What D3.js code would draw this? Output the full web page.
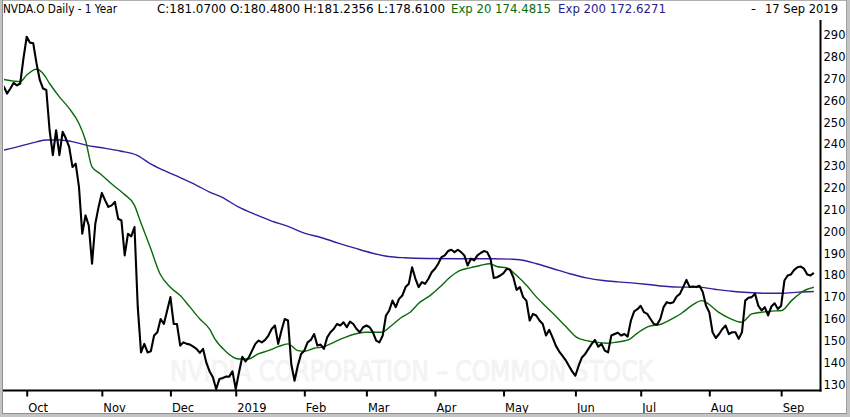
<!DOCTYPE html>
<html lang="en">
<head>
<meta charset="UTF-8">
<title>NVDA.O Daily - 1 Year</title>
<script src="https://d3js.org/d3.v7.min.js"></script>
<style>
  body { margin: 0; background: #fff; }
  svg text { font-family: "DejaVu Sans", sans-serif; }
</style>
</head>
<body>
<svg width="850" height="417"></svg>
<script>
// trading-day index of the first close (Oct 1 2018 = day 0)
const firstDay = -8;

// daily closes
const closes = [
  267.8, 266.3, 263.2, 265.5, 268.1, 266.9, 267.8, 279.3, 289.2, 286.5,
  286.2, 277.0, 269.4, 265.5, 264.8, 246.4, 235.0, 246.4, 235.0, 245.7,
  242.6, 238.8, 229.6, 231.1, 220.4, 199.0, 207.4, 202.8, 185.3, 203.6,
  211.3, 217.7, 214.3, 211.3, 212.0, 213.6, 205.9, 205.1, 189.1, 199.0,
  197.8, 202.1, 165.4, 144.7, 148.6, 144.7, 145.2, 152.4, 153.9, 160.0,
  157.7, 163.9, 170.0, 157.7, 157.7, 147.8, 149.3, 148.6, 148.3, 147.3,
  146.3, 144.5, 146.3, 140.0, 136.0, 133.3, 127.9, 132.5, 133.0, 133.6,
  133.6, 136.0, 127.9, 135.6, 142.7, 140.6, 142.4, 145.5, 148.6, 150.1,
  149.3, 150.4, 152.4, 155.4, 157.0, 148.6, 154.7, 160.0, 159.3, 139.4,
  131.7, 138.6, 144.0, 145.5, 149.3, 150.4, 153.1, 147.8, 148.3, 146.3,
  151.6, 153.9, 155.4, 157.7, 157.0, 158.5, 156.2, 158.8, 157.7, 155.4,
  153.9, 156.2, 157.0, 156.2, 153.9, 150.1, 149.3, 152.4, 161.6, 163.9,
  168.4, 165.4, 169.2, 170.7, 174.6, 176.1, 183.7, 178.5, 174.6, 176.9,
  176.1, 178.4, 181.4, 183.0, 185.3, 188.3, 189.1, 191.1, 191.7, 190.6,
  191.7, 190.6, 189.1, 184.5, 187.6, 186.8, 189.1, 190.2, 191.1, 190.6,
  187.6, 178.8, 179.1, 179.9, 181.0, 183.0, 182.5, 179.1, 173.3, 174.6,
  170.0, 168.4, 159.3, 162.3, 161.6, 159.3, 157.7, 152.4, 155.0, 151.6,
  147.8, 145.2, 143.2, 141.2, 138.6, 136.0, 134.0, 138.6, 142.4, 144.0,
  146.3, 148.6, 150.4, 147.3, 148.6, 145.5, 144.7, 152.4, 153.1, 153.7,
  152.4, 153.1, 151.9, 159.3, 163.5, 164.5, 166.0, 163.1, 162.3, 160.0,
  157.7, 157.4, 160.0, 165.4, 167.7, 167.2, 167.7, 170.3, 171.5, 174.6,
  177.9, 174.6, 174.9, 174.6, 175.2, 172.3, 166.1, 163.1, 153.9, 151.3,
  153.1, 155.4, 157.0, 153.1, 153.9, 153.9, 150.9, 153.9, 168.4, 169.7,
  170.0, 171.5, 166.1, 163.9, 165.4, 161.6, 165.7, 167.2, 164.6, 166.1,
  177.6, 179.9, 180.4, 182.5, 183.7, 184.0, 183.0, 180.4, 179.9, 181.1
];

// [trading day, value] read along the moving averages
const ema20 = [
  [-7, 269.6], [-4, 268.9], [-2, 268.6], [0, 271.7], [3, 274.3], [5, 272.4],
  [7, 267.8], [10, 261.7], [13, 256.4], [16, 249.5], [18, 241.8], [20, 229.6],
  [22.5, 226.5], [26.5, 221.2], [29.6, 217.4], [33, 212.0], [34.7, 205.1],
  [37.8, 192.9], [40.8, 180.7], [43.9, 174.6], [47, 170.7], [50, 165.4],
  [53, 160.0], [56, 155.4], [57.6, 150.9], [60.7, 145.5], [64.8, 141.7],
  [67.9, 141.7], [70.9, 144.0], [74, 145.5], [77, 147.3], [80, 148.6],
  [83, 145.5], [85, 145.2], [88, 146.6], [91, 147.3], [94, 149.3],
  [97.5, 151.6], [100.5, 153.1], [103.6, 153.9], [106.6, 153.9], [108.7, 153.9],
  [111.7, 157.0], [114.8, 160.8], [117.4, 163.1], [120.4, 167.7], [123.5, 170.7],
  [126.5, 174.6], [129.6, 179.1], [132.7, 182.2], [135.7, 183.4], [138.8, 184.5],
  [141.8, 185.3], [143.9, 184.0], [147, 183.4], [150, 179.9], [153.1, 175.3],
  [156.1, 170.0], [159.2, 165.4], [162.3, 160.8], [165.3, 156.2], [168.4, 151.6],
  [171.4, 150.1], [174.5, 149.3], [177.5, 148.9], [180.1, 149.3], [184.2, 150.4],
  [187.3, 153.9], [190.3, 156.5], [194.4, 157.7], [197.5, 160.0], [200.5, 162.6],
  [203.6, 166.1], [206.7, 168.4], [208.7, 166.9], [211.8, 163.1], [214.9, 160.5],
  [218.9, 158.5], [222, 162.3], [225.1, 163.1], [228.1, 163.6], [231.2, 163.9],
  [234.2, 168.4], [237.3, 172.3], [241, 174.5]
];

const ema200 = [
  [-7, 237.3], [-2, 239.1], [3, 241.1], [6, 241.9], [10, 241.9], [14.3, 241.1],
  [18.4, 239.5], [22.5, 238.5], [28.6, 236.9], [33.7, 235.0], [37.8, 231.1],
  [41.8, 228.1], [47, 224.7], [52, 221.2], [56, 218.1], [59.7, 215.8],
  [64.8, 211.3], [69.9, 207.9], [75, 204.8], [80, 202.4], [85, 199.3],
  [90.3, 197.2], [95.4, 194.7], [100.5, 192.4], [105.6, 190.2], [110.7, 188.6],
  [115.8, 188.0], [122.5, 187.7], [132.7, 187.6], [142.9, 187.6], [148, 187.4],
  [151, 187.1], [156.1, 185.3], [161.2, 183.0], [166.3, 180.7], [171.4, 178.8],
  [176.5, 177.6], [181, 177.0], [185.2, 176.5], [190.3, 175.8], [195.4, 175.0],
  [200.5, 174.6], [205.6, 174.6], [210.7, 173.6], [215.8, 172.7], [220.9, 172.1],
  [226, 171.8], [231.2, 171.8], [236.3, 172.3], [241, 172.6]
];

const monthLabels = ["Oct", "Nov", "Dec", "2019", "Feb", "Mar", "Apr", "May", "Jun", "Jul", "Aug", "Sep"];
const monthDays = [0, 23, 44, 64, 85, 104, 125, 146, 168, 188, 209, 231];
const priceTicks = [130, 140, 150, 160, 170, 180, 190, 200, 210, 220, 230, 240, 250, 260, 270, 280, 290];

const width = 850;
const height = 417;
const plot = { left: 4, right: 820.5, top: 20, bottom: 390.5 };

const svg = d3.select("svg")
    .attr("width", width)
    .attr("height", height);

const x = d3.scaleLinear().domain([firstDay, 241]).range([0.6, 813.8]);
const y = d3.scaleLinear().domain([130, 290]).range([384.5, 35]);

svg.append("rect").attr("width", width).attr("height", height).attr("fill", "#fff");

svg.append("defs").append("clipPath").attr("id", "plotClip")
  .append("rect")
    .attr("x", plot.left).attr("y", plot.top)
    .attr("width", plot.right - plot.left).attr("height", plot.bottom - plot.top);

// faint watermark
svg.append("text")
    .attr("x", 170).attr("y", 381)
    .attr("textLength", 483).attr("lengthAdjust", "spacingAndGlyphs")
    .attr("font-size", 29)
    .attr("fill", "#f6f6f6")
    .attr("stroke", "#eeeeee").attr("stroke-width", 0.6)
    .text("NVIDIA CORPORATION \u2013 COMMON STOCK");

const g = svg.append("g").attr("clip-path", "url(#plotClip)");

const avgLine = d3.line().x(d => x(d[0])).y(d => y(d[1])).curve(d3.curveMonotoneX);

g.append("path")
    .datum(ema200)
    .attr("fill", "none")
    .attr("stroke", "#3a1d9a")
    .attr("stroke-width", 1.4)
    .attr("d", avgLine);

g.append("path")
    .datum(ema20)
    .attr("fill", "none")
    .attr("stroke", "#0a6a0a")
    .attr("stroke-width", 1.4)
    .attr("d", avgLine);

g.append("path")
    .datum(closes)
    .attr("fill", "none")
    .attr("stroke", "#000")
    .attr("stroke-width", 2.1)
    .attr("stroke-linejoin", "round")
    .attr("d", d3.line().x((d, k) => x(firstDay + k)).y(d => y(d)));

// bottom axis (months)
const xAxis = svg.append("g")
    .attr("transform", `translate(0,${plot.bottom})`)
    .call(d3.axisBottom(x)
        .tickValues(monthDays)
        .tickFormat((d, k) => monthLabels[k])
        .tickSize(6));
xAxis.select(".domain").remove();
xAxis.selectAll(".tick line").attr("stroke", "#000").attr("stroke-width", 2);
xAxis.selectAll(".tick text")
    .attr("text-anchor", "start")
    .attr("x", 1)
    .attr("y", 21)
    .attr("dy", 0)
    .attr("fill", "#000")
    .style("font-family", "DejaVu Sans, sans-serif")
    .style("font-size", "11.5px");

svg.append("line")
    .attr("x1", 3).attr("x2", plot.right + 1)
    .attr("y1", plot.bottom).attr("y2", plot.bottom)
    .attr("stroke", "#000").attr("stroke-width", 2.2);

// right axis (price)
const yAxis = svg.append("g")
    .attr("transform", `translate(${plot.right},0)`)
    .call(d3.axisRight(y).tickValues(priceTicks).tickSize(0).tickPadding(3));
yAxis.select(".domain").remove();
yAxis.selectAll(".tick text")
    .attr("fill", "#000")
    .style("font-family", "DejaVu Sans, sans-serif")
    .style("font-size", "11.5px");

svg.append("line")
    .attr("x1", plot.right).attr("x2", plot.right)
    .attr("y1", plot.top).attr("y2", plot.bottom + 1)
    .attr("stroke", "#000").attr("stroke-width", 2);

// header line
const header = [
  { text: "NVDA.O Daily -  1 Year", x: 3, w: 114, color: "#000" },
  { text: "C:181.0700 O:180.4800 H:181.2356 L:178.6100", x: 157, w: 288, color: "#000" },
  { text: "Exp 20 174.4815", x: 451, w: 100, color: "#0a6a0a" },
  { text: "Exp 200 172.6271", x: 558, w: 108, color: "#2e1a8a" },
  { text: "-", x: 751, w: 5, color: "#000" },
  { text: "17 Sep 2019", x: 765, w: 73, color: "#000" }
];
svg.append("g").selectAll("text")
  .data(header)
  .enter().append("text")
    .attr("x", d => d.x)
    .attr("y", 13)
    .attr("textLength", d => d.w)
    .attr("lengthAdjust", "spacingAndGlyphs")
    .attr("font-size", 11.5)
    .attr("fill", d => d.color)
    .text(d => d.text);

// window frame
svg.append("line").attr("x1", 0).attr("x2", width).attr("y1", 0.5).attr("y2", 0.5)
    .attr("stroke", "#b0b0b0");
svg.append("rect").attr("x", 0).attr("y", 0).attr("width", 3).attr("height", height).attr("fill", "#c4c4c4");
svg.append("line").attr("x1", 2.5).attr("x2", 2.5).attr("y1", 0).attr("y2", 413)
    .attr("stroke", "#909090");
svg.append("rect").attr("x", 846).attr("y", 0).attr("width", 4).attr("height", height).attr("fill", "#c4c4c4");
svg.append("line").attr("x1", 846.5).attr("x2", 846.5).attr("y1", 0).attr("y2", 413)
    .attr("stroke", "#a0a0a0");
svg.append("rect").attr("x", 0).attr("y", 413).attr("width", width).attr("height", 4).attr("fill", "#c4c4c4");
svg.append("line").attr("x1", 2).attr("x2", 847).attr("y1", 413.5).attr("y2", 413.5)
    .attr("stroke", "#909090");
</script>
</body>
</html>
